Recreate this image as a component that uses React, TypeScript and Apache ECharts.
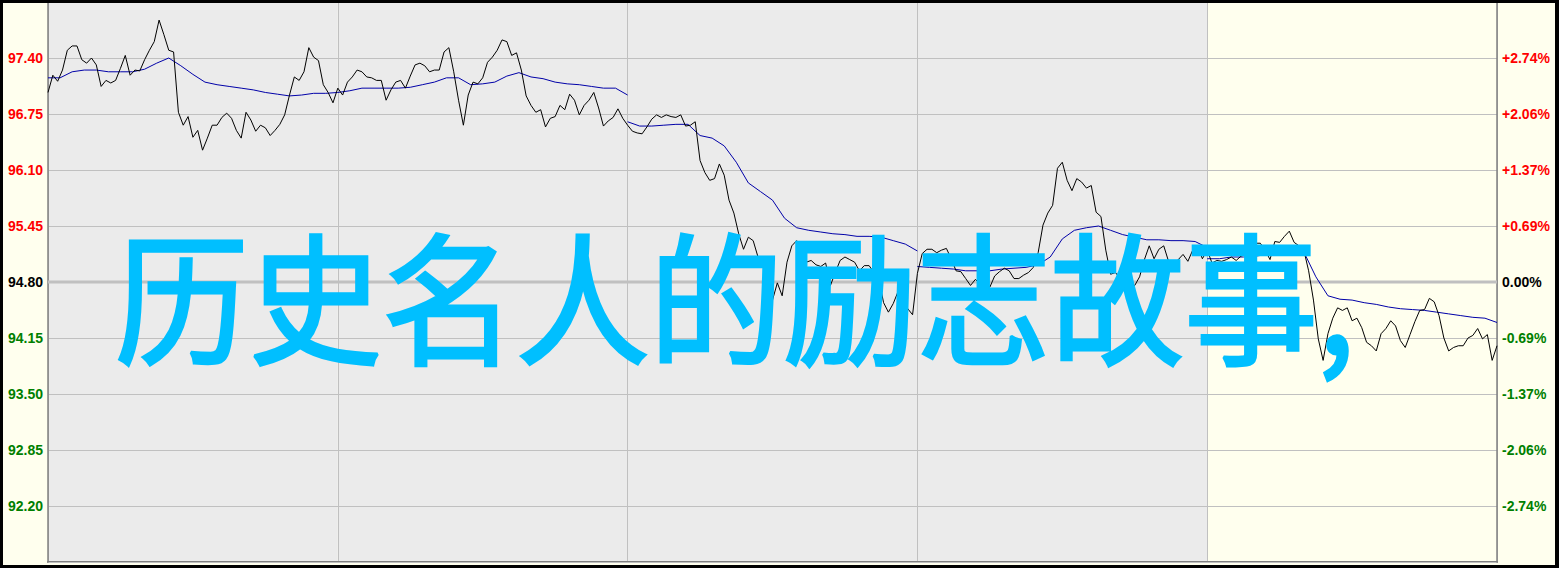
import React, { useEffect, useRef } from 'react';
import * as echarts from 'echarts';

// ---- data ----
const PREV_CLOSE = 94.8;
const Y_MIN = 91.55;
const Y_MAX = 98.05;
const Y_STEP = 0.65;
const X_MAX = 600; // minutes shown
const SESSION = 120; // minutes per grid column
const PRICE_STEP = 2; // minutes between price samples
const AVG_STEP = 5; // minutes between average samples

const PRICE_DAY1 = [
  97.0, 97.2, 97.13, 97.26, 97.49, 97.54, 97.54, 97.38, 97.34, 97.4,
  97.32, 97.07, 97.14, 97.11, 97.14, 97.28, 97.43, 97.2, 97.26, 97.25,
  97.38, 97.49, 97.59, 97.84, 97.67, 97.49, 97.47, 96.77, 96.62, 96.72,
  96.48, 96.56, 96.33, 96.47, 96.62, 96.62, 96.71, 96.76, 96.7, 96.56,
  96.47, 96.77, 96.68, 96.55, 96.62, 96.59, 96.5, 96.56, 96.63, 96.74,
  96.97, 97.18, 97.14, 97.24, 97.52, 97.41, 97.37, 97.09, 97.0, 96.88,
  97.05, 96.97, 97.12, 97.18, 97.26, 97.24, 97.18, 97.17, 97.14, 97.14,
  96.91, 97.03, 97.12, 97.14, 97.05, 97.19, 97.32, 97.34, 97.31, 97.24,
  97.26, 97.26, 97.47, 97.52, 97.24, 96.91, 96.62, 96.97, 97.12, 97.1,
  97.17, 97.35, 97.41, 97.49, 97.61, 97.59, 97.43, 97.46, 97.26, 96.96,
  96.85, 96.77, 96.8, 96.6, 96.7, 96.72, 96.85, 96.8, 96.98, 96.91,
  96.74, 96.85, 96.91, 97.0, 96.82, 96.61, 96.67, 96.71, 96.81, 96.7,
  96.62,
];
const PRICE_DAY2 = [
  96.55, 96.53, 96.52, 96.6, 96.69, 96.74, 96.71, 96.74, 96.72, 96.71,
  96.74, 96.61, 96.62, 96.66, 96.21, 96.07, 95.98, 96.0, 96.17, 96.04,
  95.75, 95.6, 95.36, 95.18, 95.32, 95.28, 95.09, 95.04, 94.96, 94.59,
  94.79, 94.64, 95.03, 95.22, 95.28, 95.14, 95.03, 95.05, 95.0, 94.98,
  95.02, 94.76, 94.91, 95.05, 95.09, 95.06, 95.03, 94.93, 94.99, 94.99,
  94.91, 94.84, 94.56, 94.45, 94.55, 94.69, 94.67, 94.49, 94.42, 94.9,
  95.13, 95.18, 95.18, 95.14, 95.17, 95.19, 95.07, 94.93, 94.92, 94.84,
  94.76, 94.83, 94.78, 94.79, 94.74, 94.87, 94.92, 94.96, 94.93, 94.84,
  94.84, 94.88, 94.91, 94.97, 95.14, 95.46, 95.6, 95.69, 96.12, 96.19,
  95.98, 95.86, 96.0, 95.96, 95.89, 95.92, 95.61, 95.56, 95.17, 94.89,
  94.91, 94.84, 94.76, 94.78, 94.76, 94.86, 95.06, 95.22, 95.07, 95.18,
  95.22, 95.04, 94.98, 95.06, 95.12, 95.04, 95.17, 95.22, 95.07, 95.17,
];
const PRICE_DAY3 = [
  95.02, 95.05, 95.04, 95.06, 95.09, 95.05, 95.1, 95.12, 95.09, 95.25,
  95.25, 95.17, 95.06, 95.27, 95.26, 95.33, 95.39, 95.26, 95.22, 95.17,
  94.93, 94.59, 94.14, 93.89, 94.2, 94.38, 94.5, 94.47, 94.5, 94.35,
  94.38, 94.27, 94.1, 94.06, 94.0, 94.2, 94.26, 94.35, 94.29, 94.12,
  94.04, 94.19, 94.34, 94.47, 94.48, 94.61, 94.57, 94.41, 94.15, 94.0,
  94.04, 94.06, 94.06, 94.15, 94.18, 94.26, 94.14, 94.19, 93.89, 94.06,
];

const AVG_SEG1_START = 0;
const AVG_SEG1 = [
  97.17, 97.17, 97.24, 97.26, 97.26, 97.24, 97.24, 97.24, 97.27, 97.34,
  97.4, 97.31, 97.21, 97.12, 97.09, 97.07, 97.05, 97.03, 97.0, 96.98,
  96.96, 96.97, 96.99, 96.99, 97.0, 97.02, 97.05, 97.05, 97.05, 97.05,
  97.06, 97.09, 97.12, 97.17, 97.17, 97.09, 97.1, 97.12, 97.19, 97.23,
  97.18, 97.16, 97.12, 97.1, 97.09, 97.07, 97.05, 97.05, 96.97,
];
const AVG_SEG2_START = 240;
const AVG_SEG2 = [
  96.66, 96.61, 96.61, 96.62, 96.63, 96.63, 96.5, 96.47, 96.38, 96.19,
  95.95, 95.85, 95.75, 95.54, 95.43, 95.4, 95.38, 95.36, 95.35, 95.33,
  95.33, 95.32, 95.28, 95.24, 95.16,
];
const AVG_SEG3_START = 360;
const AVG_SEG3 = [
  94.98, 94.97, 94.96, 94.95, 94.93, 94.93, 94.93, 94.95, 94.96, 94.97,
  95.0, 95.09, 95.3, 95.4, 95.43, 95.45, 95.4, 95.35, 95.32, 95.29,
  95.29, 95.28, 95.28, 95.27, 95.2,
];
const AVG_SEG4_START = 480;
const AVG_SEG4 = [
  95.07, 95.07, 95.09, 95.09, 95.1, 95.12, 95.14, 95.17, 95.15, 94.86,
  94.64, 94.6, 94.59, 94.56, 94.54, 94.51, 94.49, 94.48, 94.47, 94.45,
  94.43, 94.41, 94.39, 94.38, 94.33,
];

const TITLE = '历史名人的励志故事,';

const UP_COLOR = '#FF0000';
const DOWN_COLOR = '#008000';
const FLAT_COLOR = '#000000';

function labelColor(v: any): string {
  const n = Number(v);
  if (Math.abs(n - PREV_CLOSE) < 1e-6) return FLAT_COLOR;
  return n > PREV_CLOSE ? UP_COLOR : DOWN_COLOR;
}

function pctLabel(v: any): string {
  const n = Number(v);
  const pct = ((n - PREV_CLOSE) / PREV_CLOSE) * 100;
  if (Math.abs(pct) < 0.005) return '0.00%';
  return (pct > 0 ? '+' : '') + pct.toFixed(2) + '%';
}

export default function App() {
  const ref = useRef<HTMLDivElement>(null);

  useEffect(() => {
    document.body.style.margin = '0';
    if (!ref.current) return;
    const chart = echarts.init(ref.current, undefined, { renderer: 'svg' });

    const prices = [...PRICE_DAY1, ...PRICE_DAY2, ...PRICE_DAY3];
    const priceData = prices.map((p, i) => [i * PRICE_STEP, p]);
    const seg = (start: number, vals: number[]) => vals.map((v, j) => [start + j * AVG_STEP, v]);

    const labelFont = {
      fontFamily: 'Liberation Sans, Arial, sans-serif',
      fontWeight: 'bold' as const,
      fontSize: 14,
    };

    const avgSeries = [
      seg(AVG_SEG1_START, AVG_SEG1),
      seg(AVG_SEG2_START, AVG_SEG2),
      seg(AVG_SEG3_START, AVG_SEG3),
      seg(AVG_SEG4_START, AVG_SEG4),
    ].map((d) => ({
      type: 'line',
      data: d,
      showSymbol: false,
      symbol: 'none',
      lineStyle: { color: '#0000A8', width: 1 },
      z: 3,
      silent: true,
    }));

    chart.setOption({
      animation: false,
      backgroundColor: '#FFFFEE',
      grid: { left: 48, right: 62, top: 2, bottom: 6, containLabel: false },
      xAxis: {
        type: 'value',
        min: 0,
        max: X_MAX,
        interval: SESSION,
        axisLabel: { show: false },
        axisTick: { show: false },
        axisLine: { show: true, onZero: false, lineStyle: { color: '#808080', width: 2 } },
        splitLine: { show: true, lineStyle: { color: '#C0C0C0', width: 1 } },
        splitArea: {
          show: true,
          areaStyle: { color: ['#EBEBEB', '#EBEBEB', '#EBEBEB', '#EBEBEB', '#FFFFEE'] },
        },
      },
      yAxis: [
        {
          type: 'value',
          position: 'left',
          min: Y_MIN,
          max: Y_MAX,
          interval: Y_STEP,
          z: 1,
          axisLine: { show: true, lineStyle: { color: '#808080', width: 1.5 } },
          axisTick: { show: false },
          splitLine: { show: true, lineStyle: { color: '#C0C0C0', width: 1 } },
          axisLabel: {
            ...labelFont,
            margin: 5,
            showMinLabel: false,
            showMaxLabel: false,
            formatter: (v: number) => Number(v).toFixed(2),
            color: (v: any) => labelColor(v),
          },
        },
        {
          type: 'value',
          position: 'right',
          min: Y_MIN,
          max: Y_MAX,
          interval: Y_STEP,
          z: 1,
          axisLine: { show: true, lineStyle: { color: '#808080', width: 1.5 } },
          axisTick: { show: false },
          splitLine: { show: false },
          axisLabel: {
            ...labelFont,
            margin: 5,
            showMinLabel: false,
            showMaxLabel: false,
            formatter: (v: number) => pctLabel(v),
            color: (v: any) => labelColor(v),
          },
        },
      ],
      series: [
        {
          type: 'line',
          data: [
            [0, PREV_CLOSE],
            [X_MAX, PREV_CLOSE],
          ],
          symbol: 'none',
          lineStyle: { color: '#C0C0C0', width: 3 },
          z: 2,
          silent: true,
        },
        ...avgSeries,
        {
          type: 'line',
          data: priceData,
          symbol: 'none',
          showSymbol: false,
          lineStyle: { color: '#000000', width: 1 },
          z: 4,
          silent: true,
        },
      ],
      graphic: [
        { type: 'rect', z: 50, shape: { x: 0, y: 0, width: 1559, height: 3 }, style: { fill: '#000' } },
        { type: 'rect', z: 50, shape: { x: 0, y: 565, width: 1559, height: 3 }, style: { fill: '#000' } },
        { type: 'rect', z: 50, shape: { x: 0, y: 0, width: 3, height: 568 }, style: { fill: '#000' } },
        { type: 'rect', z: 50, shape: { x: 1555, y: 0, width: 4, height: 568 }, style: { fill: '#000' } },
        {
          type: 'text',
          z: 100,
          x: 115,
          y: 292,
          scaleX: 0.99,
          scaleY: 1.05,
          style: {
            text: TITLE,
            fill: '#00BFFF',
            stroke: '#00BFFF',
            lineWidth: 3,
            font: '135px "Noto Sans CJK SC", sans-serif',
            textAlign: 'left',
            textVerticalAlign: 'middle',
          },
        },
      ],
    });

    return () => chart.dispose();
  }, []);

  return <div ref={ref} style={{ width: 1559, height: 568 }} />;
}
